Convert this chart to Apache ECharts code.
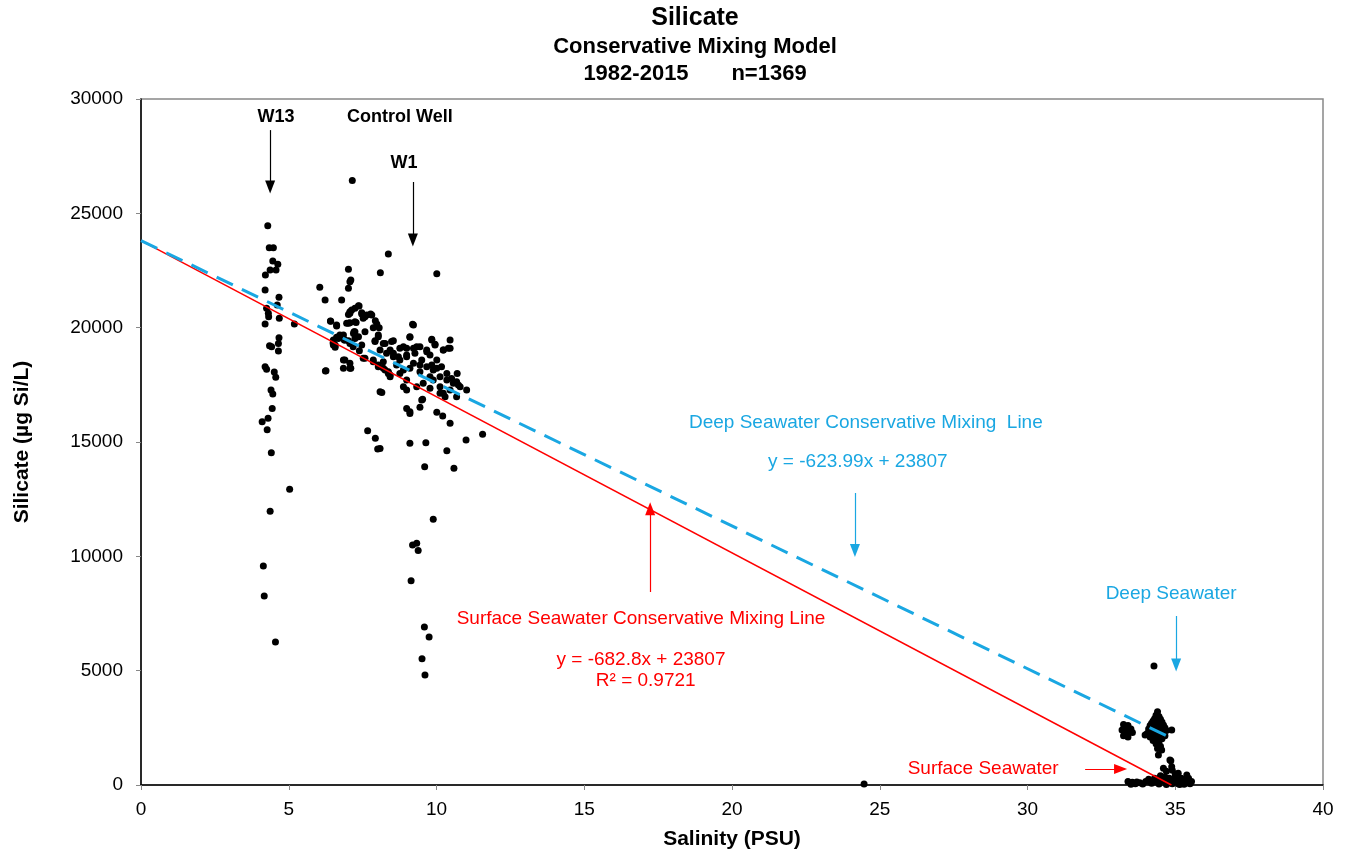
<!DOCTYPE html>
<html>
<head>
<meta charset="utf-8">
<script src="https://cdn.jsdelivr.net/npm/echarts@6/dist/echarts.min.js"></script>
<style>
html,body{margin:0;padding:0;background:#fff;}
#chart{width:1351px;height:853px;}
</style>
</head>
<body>
<div id="chart"></div>
<script>
// ---- Data: [salinity (PSU), silicate (µg Si/L)] ----
const w13Points = [
  [4.29,24460],[4.34,23500],[4.48,23500],[4.46,22915],[4.63,22770],[4.57,22520],[4.37,22520],
  [4.21,22300],[4.20,21650],[4.67,21330],[4.61,20990],[4.25,20850],[4.31,20630],[4.68,20410],
  [4.32,20480],[4.20,20160],[5.19,20160],[4.67,19560],[4.35,19210],[4.65,18980],[4.42,19170],
  [4.65,19310],[4.20,18290],[4.25,18180],[4.51,18060],[4.56,17830],[4.40,17270],[4.46,17100],
  [4.44,16460],[4.30,16040],[4.10,15890],[4.27,15540],[4.41,14530],[5.03,12930],[4.37,11970],
  [4.14,9580],[4.17,8270],[4.55,6250]
];
const controlWellPoints = [
  [7.15,26440],[7.02,22550],[7.10,22080],[7.07,22010],[7.02,21720],[6.05,21770],[6.23,21210],
  [6.79,21210],[7.36,20960],[7.38,20950],[7.13,20770],[7.02,20580],[7.47,20650],[7.64,20550],
  [7.77,20600],[7.52,20410],[7.93,20300],[7.98,20160],[6.42,20280],[7.07,20220],[7.28,20230],
  [6.41,20290],[6.62,20070],[7.07,20630],[7.47,20600],[7.58,20480],[7.81,20550],[6.62,20120],
  [6.96,20190],[7.07,20700],[7.24,20850],[7.02,20190],[7.24,20260],[7.86,20000],[8.06,20000],
  [7.58,19820],[7.21,19820],[7.24,19820],[6.73,19680],[6.88,19460],[6.85,19680],[6.68,19530],
  [6.50,19330],[6.51,19460],[6.62,19580],[7.02,19430],[7.24,19530],[7.19,19750],[7.36,19600],
  [6.57,19240],[6.90,19460],[7.07,19310],[6.51,19240],[6.57,19140],[7.18,19170],[7.39,18990],
  [7.47,19240],[6.85,18590],[6.85,18220],[7.10,18220],[7.07,18440],[6.90,18590],[7.07,18220],
  [6.24,18100],[6.26,18120],[7.58,18660],[7.52,18660],[7.67,15490],[7.93,15160],[8.01,14690],
  [8.09,14720]
];
const w1Points = [
  [8.37,23220],[8.10,22400],[10.01,22360],[9.22,20120],[9.19,20150],[7.86,18590],[8.03,18370],
  [8.20,18220],[8.37,18070],[8.43,17850],[7.86,18510],[8.03,18290],[8.43,17930],[8.26,18150],
  [8.37,18000],[7.92,19430],[8.03,19600],[8.03,19680],[7.92,19390],[8.20,19310],[8.48,19390],
  [8.26,19310],[8.54,19430],[9.10,19580],[9.10,19600],[9.84,19490],[9.95,19280],[10.46,19460],
  [10.23,19020],[10.46,19100],[9.84,19460],[9.95,19240],[8.09,19020],[8.31,18880],[8.54,18730],
  [8.76,18590],[8.99,18730],[9.22,18440],[9.44,18370],[9.67,18290],[9.89,18150],[10.12,17850],
  [10.35,17710],[10.57,17570],[10.80,17420],[8.76,19100],[8.99,19100],[9.33,19170],[9.67,19020],
  [9.78,18800],[10.01,18590],[8.20,18510],[8.65,18370],[8.88,18150],[9.10,18220],[9.44,18070],
  [9.78,17850],[9.89,17710],[10.12,17420],[10.23,17130],[10.46,17270],[10.68,16980],[8.43,19020],
  [9.27,18880],[9.50,18590],[9.84,18370],[10.01,18220],[10.35,18000],[10.51,17780],[10.68,17640],
  [11.02,17270],[8.76,18000],[8.99,17710],[8.88,17420],[9.33,17420],[9.55,17570],[8.88,19170],
  [9.22,19100],[9.44,19170],[9.67,18950],[10.23,19020],[10.40,19100],[8.54,18880],[8.71,18730],
  [8.99,18800],[10.17,18290],[10.70,18000],[10.74,17490],[8.99,17270],[9.78,17350],[10.12,17130],
  [10.29,16980],[8.15,17170],[8.09,17200],[9.50,16840],[9.53,16870],[8.99,16470],[9.10,16250],
  [9.10,16320],[9.44,16520],[10.01,16300],[10.21,16140],[10.46,15820],[11.56,15340],[11.00,15090],
  [10.35,14620],[10.59,13850],[9.60,13920],[9.64,14970],[9.10,14940],[9.89,11620],[9.19,10500],
  [9.33,10570],[9.38,10250],[9.14,8930],[9.59,6910],[9.75,6470],[9.51,5520],[9.61,4810]
];
const deepSeawaterPoints = [
  [34.40,3200],[34.35,3050],[34.45,3000],[34.30,2900],[34.50,2880],[34.25,2800],[34.40,2780],
  [34.55,2750],[34.20,2700],[34.35,2650],[34.60,2620],[34.15,2600],[34.28,2550],[34.45,2520],
  [34.65,2500],[34.10,2450],[34.30,2420],[34.50,2400],[34.70,2380],[34.20,2350],[34.40,2300],
  [34.60,2280],[34.05,2250],[34.25,2200],[34.45,2180],[34.65,2150],[34.15,2100],[34.35,2050],
  [34.55,2020],[34.25,1950],[34.45,1900],[34.35,1800],[34.50,1700],[34.40,1600],[34.88,2400],
  [33.98,2190],[34.54,1530],[34.43,1310],[34.85,1060],[34.28,5200],
  [33.25,2650],[33.40,2600],[33.30,2500],[33.50,2450],[33.20,2400],[33.45,2350],[33.30,2250],
  [33.55,2300],[33.25,2150],[33.40,2100]
];
const surfaceSeawaterPoints = [
  [34.60,730],[34.88,800],[35.10,510],[35.39,440],[34.82,1090],[34.70,600],[35.00,350],[35.20,300],
  [34.50,400],[34.30,300],[34.10,250],[34.00,150],[33.80,100],[33.55,120],[33.40,150],[33.65,60],
  [33.90,40],[34.20,80],[34.40,120],[34.60,200],[34.75,100],[34.90,50],[35.05,150],[35.25,180],
  [35.40,100],[35.50,60],[35.30,30],[35.15,20],[34.95,250],[34.80,300],[34.55,180],[34.35,200],
  [35.45,300],[35.35,250],[33.70,130],[34.15,140],[34.65,350],[35.00,480],[34.90,650],[35.10,60],
  [34.45,40],[34.70,20],[33.50,30],[35.55,150],[24.47,40]
];
const deepMixingLine = [[0,23807],[34.9,2030]];
const surfaceMixingLine = [[0,23807],[34.87,0]];
const xTicks = [0,5,10,15,20,25,30,35,40];
const yTicks = [0,5000,10000,15000,20000,25000,30000];

const BLUE = '#1AA7E2';
const RED = '#FF0000';
const FONT = 'Liberation Sans, Arial, sans-serif';

function arrow(from, to, color) {
  return [{coord: from, lineStyle:{color:color}}, {coord: to}];
}
function txt(coord, text, color, bold, size) {
  return {
    coord: coord, value: text, symbol:'rect', symbolSize: 1,
    itemStyle:{color:'rgba(0,0,0,0)'},
    label:{show:true, position:'inside', formatter:text, color:color,
      fontFamily:FONT, fontSize:size||19, fontWeight: bold?'bold':'normal'}
  };
}

const chart = echarts.init(document.getElementById('chart'));
chart.setOption({
  backgroundColor:'#fff',
  animation:false,
  title:[
    {text:'Silicate', left:690, top:1, textAlign:'center',
     textStyle:{fontFamily:FONT, fontSize:25, fontWeight:'bold', color:'#000'}},
    {text:'Conservative Mixing Model', left:690, top:31, textAlign:'center',
     textStyle:{fontFamily:FONT, fontSize:22, fontWeight:'bold', color:'#000'}},
    {text:'1982-2015       n=1369', left:690, top:58, textAlign:'center',
     textStyle:{fontFamily:FONT, fontSize:22, fontWeight:'bold', color:'#000'}}
  ],
  grid:{left:141, right:28, top:99, bottom:68, containLabel:false, outerBoundsMode:'none',
    show:true, borderColor:'#888', borderWidth:1.5, backgroundColor:'transparent'},
  xAxis:{
    type:'value', min:xTicks[0], max:xTicks[xTicks.length-1], interval:5,
    name:'Salinity (PSU)', nameLocation:'middle', nameGap:44,
    nameTextStyle:{fontFamily:FONT, fontSize:21, fontWeight:'bold', color:'#000'},
    axisLine:{show:true, onZero:false, lineStyle:{color:'#000', width:1.5}},
    axisTick:{show:true, length:5, lineStyle:{color:'#888'}},
    axisLabel:{fontFamily:FONT, fontSize:19, color:'#000', margin:15},
    splitLine:{show:false}
  },
  yAxis:{
    type:'value', min:yTicks[0], max:yTicks[yTicks.length-1], interval:5000,
    name:'Silicate (µg Si/L)', nameLocation:'middle', nameGap:108, nameRotate:90,
    nameTextStyle:{fontFamily:FONT, fontSize:21, fontWeight:'bold', color:'#000'},
    axisLine:{show:true, onZero:false, lineStyle:{color:'#000', width:1.5}},
    axisTick:{show:true, length:5, lineStyle:{color:'#888'}},
    axisLabel:{fontFamily:FONT, fontSize:19, color:'#000', margin:18,
      formatter:function(v){return String(v);}},
    splitLine:{show:false}
  },
  series:[
    {type:'scatter', name:'W13', data:w13Points, symbolSize:7, itemStyle:{color:'#000', opacity:1}, z:2},
    {type:'scatter', name:'Control Well', data:controlWellPoints, symbolSize:7, itemStyle:{color:'#000', opacity:1}, z:2},
    {type:'scatter', name:'W1', data:w1Points, symbolSize:7, itemStyle:{color:'#000', opacity:1}, z:2},
    {type:'scatter', name:'Deep Seawater', data:deepSeawaterPoints, symbolSize:7, itemStyle:{color:'#000', opacity:1}, z:2},
    {type:'scatter', name:'Surface Seawater', data:surfaceSeawaterPoints, symbolSize:7, itemStyle:{color:'#000', opacity:1}, z:2},
    {type:'line', name:'Surface Seawater Conservative Mixing Line', data:surfaceMixingLine, showSymbol:false,
     lineStyle:{color:RED, width:1.5}, z:4},
    {type:'line', name:'Deep Seawater Conservative Mixing Line', data:deepMixingLine, showSymbol:false,
     lineStyle:{color:BLUE, width:3, type:[18,10]}, z:5,
     markLine:{
       silent:true, symbol:['none','triangle'], symbolSize:[10,13], label:{show:false},
       lineStyle:{color:'#000', width:1.2, type:'solid'},
       data:[
         arrow([4.37,28640],[4.37,26150],'#000'),
         arrow([9.2,26370],[9.2,23830],'#000'),
         arrow([24.16,12770],[24.16,10250],BLUE),
         arrow([17.23,8440],[17.23,12080],RED),
         arrow([35.03,7390],[35.03,5250],BLUE),
         arrow([31.95,700],[33.15,700],RED)
       ]
     },
     markPoint:{
       silent:true,
       data:[
         txt([4.57,29210],'W13','#000',true,18),
         txt([8.76,29210],'Control Well','#000',true,18),
         txt([8.9,27200],'W1','#000',true,18),
         txt([24.53,15830],'Deep Seawater Conservative Mixing  Line',BLUE,false,19),
         txt([24.26,14125],'y = -623.99x + 23807',BLUE,false,19),
         txt([16.92,7260],'Surface Seawater Conservative Mixing Line',RED,false,19),
         txt([16.92,5466],'y = -682.8x + 23807',RED,false,19),
         txt([17.08,4548],'R² = 0.9721',RED,false,19),
         txt([34.86,8352],'Deep Seawater',BLUE,false,19),
         txt([28.5,700],'Surface Seawater',RED,false,19)
       ]
     }
    }
  ]
});
</script>
</body>
</html>
